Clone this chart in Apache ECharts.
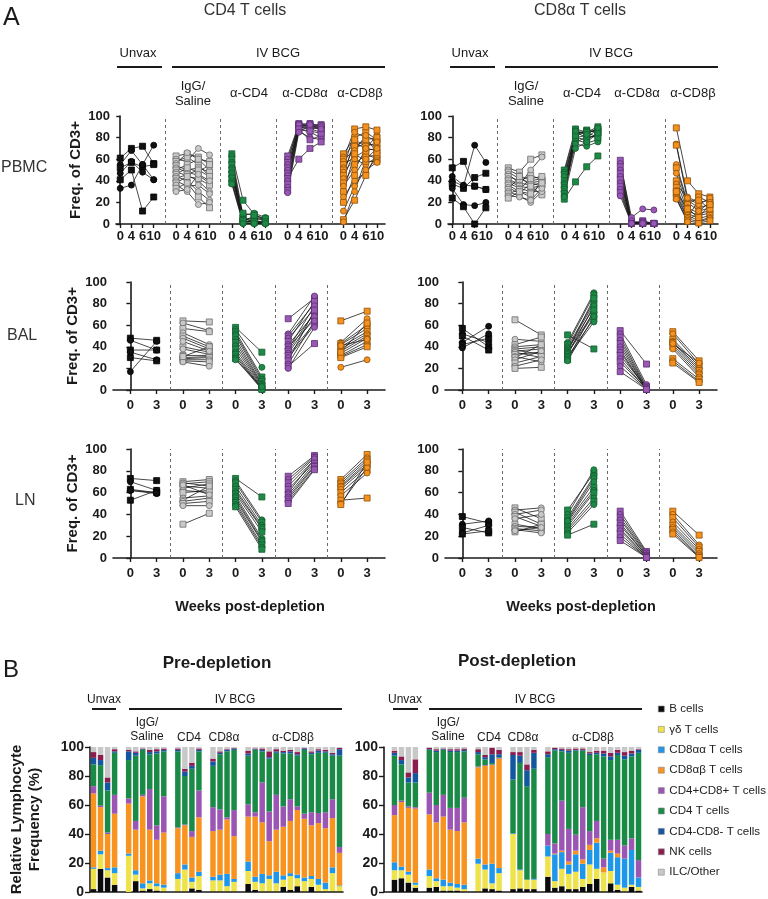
<!DOCTYPE html>
<html>
<head>
<meta charset="utf-8">
<script src="https://cdn.jsdelivr.net/npm/echarts@6/dist/echarts.min.js"></script>
<style>
  html, body { margin: 0; padding: 0; background: #fff; }
  #main { width: 768px; height: 899px; }
</style>
</head>
<body>
<div id="main"></div>
<script>
// ---------- panel A: % of CD3+, one row per animal ----------
const pbmcWeeks = ['0', '4', '6', '10'];
const tissueWeeks = ['0', '3'];

// CD4 T cells, PBMC
const cd4PbmcUnvax = [[61,70,72,56],[55,68,55,73],[52,57,53,55],[47,58,48,41],[41,50,12,25],[33,36,55,41]];
const cd4PbmcIgg = [[63,65,62,55],[60,58,70,64],[58,62,55,44],[56,66,60,50],[54,50,52,48],[52,48,45,38],[50,55,60,58],[48,45,40,30],
  [46,52,48,55],[44,40,30,22],[42,46,50,44],[40,35,36,28],[38,44,42,36],[36,30,18,20],[33,38,25,15],[30,32,46,40]];
const cd4PbmcAcd4 = [[65,22,9,4],[63,8,10,6],[60,5,3,2],[57,3,7,4],[55,2,2,1],[52,1,4,5],[50,6,1,2],[48,0.5,0.5,0.5],
  [46,4,6,3],[44,2,3,1],[42,10,8,5],[40,1,1,0.5],[38,3,2,2],[37,0.5,0.5,0.5]];
const cd4PbmcAcd8a = [[63,92,93,90],[60,90,88,85],[57,93,92,92],[55,88,85,80],[52,91,90,88],[50,86,80,78],[47,92,91,91],
  [45,89,93,86],[42,60,70,76],[40,90,88,89],[37,87,78,82],[34,92,90,90],[31,88,86,84],[29,85,92,88]];
const cd4PbmcAcd8b = [[65,80,85,78],[62,75,70,82],[60,88,90,87],[58,70,75,72],[55,62,68,70],[52,85,80,66],[50,72,78,80],
  [48,60,55,62],[45,78,72,75],[42,68,82,76],[38,55,65,60],[35,50,70,68],[30,65,58,58],[25,40,48,62],[20,45,62,64],
  [12,35,50,57],[4,22,45,66],[2,30,60,70]];

// CD8a T cells, PBMC
const cd8PbmcUnvax = [[52,58,35,32],[40,35,73,57],[37,33,43,47],[33,18,17,20],[24,16,0,15],[44,36,35,32]];
const cd8PbmcIgg = [[52,48,60,64],[50,45,40,42],[48,42,38,40],[46,38,36,38],[44,40,45,41],[42,36,50,62],[40,35,33,36],
  [38,33,30,30],[36,30,25,40],[34,28,38,35],[32,44,35,27],[30,26,20,30],[28,32,42,44],[26,25,22,33],[24,30,28,38]];
const cd8PbmcAcd4 = [[50,88,85,90],[48,85,80,88],[46,82,87,85],[44,80,82,80],[40,86,84,88],[38,78,75,78],[36,84,86,86],
  [34,76,80,82],[32,80,78,84],[30,74,72,76],[28,82,85,80],[26,70,76,84],[23,39,53,63],[25,86,83,89]];
const cd8PbmcAcd8a = [[59,2,0.5,0.5],[56,6,14,13],[53,0.5,3,0.5],[50,0.5,0.5,0.5],[47,1,2,0.5],[44,0.5,0.5,0.5],
  [41,0.5,1,0.5],[38,3,0.5,0.5],[35,0.5,0.5,0.5],[32,0.5,0.5,0.5],[29,0.5,0.5,0.5],[26,0.5,0.5,0.5]];
const cd8PbmcAcd8b = [[89,40,28,25],[74,25,20,22],[73,22,15,18],[55,20,12,15],[52,18,25,20],[47,15,10,12],[40,12,8,10],
  [37,24,18,24],[34,10,5,8],[31,8,3,6],[28,6,22,14],[26,5,2,5],[24,3,1,3],[23,2,12,20],[30,14,6,18]];

// CD4 T cells, BAL
const cd4BalUnvax = [[48,46],[46,37],[37,37],[35,28],[30,27],[17,45]];
const cd4BalIgg = [[64,63],[62,55],[57,54],[53,42],[50,40],[48,38],[40,35],[38,33],[32,32],[30,31],[29,30],[28,28],
  [27,26],[26,22],[31,40],[45,36]];
const cd4BalAcd4 = [[58,35],[56,21],[54,12],[52,10],[50,8],[47,6],[44,5],[41,4],[38,3],[35,2],[33,1],[31,1],[29,0.5],[28,3]];
const cd4BalAcd8a = [[66,85],[52,87],[50,80],[48,75],[45,82],[42,70],[40,65],[38,78],[36,72],[34,68],[32,62],[30,60],
  [27,74],[24,64],[22,43],[20,58]];
const cd4BalAcd8b = [[64,73],[44,66],[43,60],[42,57],[40,54],[38,52],[36,50],[34,48],[32,45],[31,42],[30,40],[21,28],[35,62],[41,47]];

// CD8a T cells, BAL
const cd8BalUnvax = [[57,40],[52,44],[50,37],[44,59],[42,48],[39,52]];
const cd8BalIgg = [[65,51],[47,45],[42,49],[40,42],[38,40],[37,33],[36,38],[35,30],[33,35],[31,26],[30,42],[28,36],
  [25,31],[22,28],[20,21]];
const cd8BalAcd4 = [[51,38],[44,90],[42,88],[40,82],[38,80],[37,76],[36,85],[35,72],[34,70],[33,78],[31,66],[30,63],[28,74],[27,68]];
const cd8BalAcd8a = [[55,24],[52,5],[49,3],[46,2],[43,1],[40,1],[37,0.5],[35,0.5],[32,2],[29,0.5],[26,1],[22,0.5],[17,0.5]];
const cd8BalAcd8b = [[54,27],[52,24],[47,22],[45,20],[44,18],[42,16],[40,14],[38,12],[29,10],[27,8],[25,7],[43,25]];

// CD4 T cells, LN
const cd4LnUnvax = [[73,71],[70,62],[63,60],[62,59],[53,62],[62,60]];
const cd4LnIgg = [[70,72],[69,66],[68,70],[66,64],[64,68],[62,60],[60,62],[55,57],[53,66],[52,55],[50,52],[48,48],[31,41],[67,58]];
const cd4LnAcd4 = [[73,56],[71,35],[69,33],[66,30],[63,28],[61,27],[59,24],[57,18],[55,16],[53,15],[51,12],[49,10],[47,8]];
const cd4LnAcd8a = [[75,94],[72,93],[69,92],[66,90],[63,88],[60,91],[58,87],[56,85],[54,84],[52,82],[50,81]];
const cd4LnAcd8b = [[72,95],[70,92],[68,90],[66,88],[65,86],[63,84],[60,81],[57,78],[53,55],[50,83],[49,88]];

// CD8a T cells, LN
const cd8LnUnvax = [[38,32],[31,34],[28,23],[23,30],[22,25]];
const cd8LnIgg = [[46,36],[44,46],[42,31],[40,44],[38,29],[36,40],[31,27],[29,28],[27,25],[26,23],[24,31],[25,28]];
const cd8LnAcd4 = [[44,78],[40,81],[37,75],[35,73],[33,65],[31,62],[29,60],[27,55],[25,52],[23,49],[21,31],[34,70]];
const cd8LnAcd8a = [[43,6],[40,5],[37,4],[35,3],[32,2],[30,2],[27,1],[25,1],[22,0.5],[19,0.5],[16,0.5]];
const cd8LnAcd8b = [[43,21],[40,12],[37,10],[33,8],[30,6],[28,4],[26,2],[24,1],[22,0.5]];

// ---------- panel B: relative lymphocyte frequency, one row per animal ----------
const cellTypes = ['B cells', 'γδ T cells', 'CD8αα T cells', 'CD8αβ T cells', 'CD4+CD8+ T cells',
  'CD4 T cells', 'CD4-CD8- T cells', 'NK cells', 'ILC/Other'];

const preUnvax = [[2,14,1,51,5,15,4.5,4,3.5],[16,10,2.5,30,1,28,3.5,3.5,5.5],[10,5,1.5,23.5,1,29,5.5,3.5,21],[5,8,4,37,13,29,1,1.5,1.5]];
const preIgg = [[0,25,1.5,34.5,3.5,26.5,6,1,2],[7.5,4.5,3,28,6,45,2,1,3],[1,1.5,3.5,60,1,31,0.5,0.5,1],
  [2,4,2,35,28,24,1.5,1.5,2],[1,3,2,30,10,49.5,1.5,1.5,1.5],[0.5,2.5,2,36,25,31,1,1,1]];
const preCd4 = [[0.5,8.5,4,31,0.5,52.5,1,1,1],[0.5,15,3.5,27,0.5,33.5,3,2,15],[2.5,4.5,3,28,4,43,2,2,11],[1.5,9.5,3,37.5,18.5,27,1,1,1]];
const preCd8a = [[0.5,7.5,2.5,31.5,16.5,28.5,3,2,8],[0.5,7.5,4,31,14,38,1,1,3],[0.5,3.5,8.5,37.5,1.5,45.5,1,0.5,1.5],
  [0.5,6.5,2,29.5,18,41.5,1,0.5,0.5]];
const preCd8b = [[5.5,9,6.5,31,8.5,33.5,1.5,2,2.5],[1.5,5.5,3.5,41.5,3,43,0.5,0.5,1],[0.5,5.5,6.5,35.5,27.5,21.5,1,1,1],
  [0.5,8.5,2.5,23.5,20.5,36.5,1,4,3],[0.5,5.5,8,29,24,29,1,1.5,1.5],[3.5,5,3,33.5,14,36.5,1,1,2.5],
  [1.5,9.5,2,36,15,31.5,1.5,1,2],[4,5.5,2.5,44.5,2.5,35,1,1.5,3.5],[0.5,7,2.5,40.5,3.5,44,1,0.5,0.5],
  [3.5,5.5,2,35,9,40,1,1,3],[0.5,4.5,4,38.5,7,41.5,1.5,1,1.5],[0.5,1.5,4.5,37.5,11,41,1,1,2],
  [0.5,12.5,4,34,13,30,1,1,4],[0.5,3.5,0.5,22.5,4,63,4.5,1,0.5]];

const postUnvax = [[8.5,6.5,5.5,32.5,7,34,2,1.5,2.5],[9.5,5.5,2.5,44.5,1,25,3,2.5,6.5],[6.5,5.5,2,44,1,16.5,3.5,3.5,17.5],
  [3,2,1.5,51,1,17,6.5,9.5,8.5]];
const postIgg = [[3,8,4.5,38,15,29.5,0.5,1,0.5],[3.5,4,2,38.5,12,36.5,1,1,1.5],[1,3,4.5,43.5,15,31,0.5,0.5,1],
  [1,3,2.5,36.5,15,38.5,1,1,1.5],[1,2,2.5,36.5,16,38.5,1,1,1.5],[0.5,1.5,3,43,17,32,1,1,1]];
const postCd4 = [[0.5,19,3.5,63,0.5,8.5,1.5,2,1.5],[2.5,13,3.5,68,0.5,4,1.5,1.5,5.5],[2,4,13.5,68,0.5,1,6,4.5,0.5],
  [1,12,3.5,75.5,0.5,0.5,2,3,2]];
const postCd8a = [[2,38,0.5,0,0,37,17,2,3.5],[2.5,12.5,0.5,0,0,73.5,5,2.5,3.5],[2,6.5,0,0,0,64.5,11,4,12],[2,6.5,0.5,0,0,76,11,2,2]];
const postCd8b = [[10.5,14,7.5,0,8,53,2,2,3],[3,4.5,18.5,0.5,7,64,1,1,0.5],[4,12,11.5,1,34.5,34,1,1,1],
  [2,10.5,6.5,2,22.5,52.5,1.5,1,1.5],[2,12,12,2.5,11,58,0.5,1,1],[3.5,5.5,10.5,3,36,39,0.5,1,1],
  [5.5,13.5,10,3.5,9.5,52.5,1,1,3.5],[9,7,18,3,12,46,1,1.5,2.5],[0.5,13,0,3.5,6,70.5,2,2,2.5],
  [6,8.5,12.5,1.5,7.5,55,2.5,2.5,4],[1.5,3.5,19,2.5,9.5,58.5,1.5,2,2],[0.5,2.5,20,0,9,59.5,2.5,2.5,3.5],
  [3.5,1.5,24,0,8,56.5,2,2,2.5],[1,2.5,6.5,0,12,74,2,0.5,1.5]];

// ---------- styling ----------
const FONT = '"Liberation Sans", Arial, Helvetica, sans-serif';
const INK = '#1a1a1a';
const groupFill = ['#111111', '#c9c9c9', '#1d8a46', '#9a58b5', '#f5911f'];
const groupEdge = ['#000000', '#6f6f6f', '#155c30', '#5b2e72', '#8f5109'];
const cellColors = ['#0b0b0b', '#efe34b', '#1e96ea', '#f7931e', '#9b56b3', '#1a8b47', '#13579f', '#8c1d4f', '#c8c8c8'];

const panelsA = [
  { grid: { left: 116, top: 116, width: 269, height: 108 }, weeks: pbmcWeeks, yName: true, labelMargin: 6,
    groups: [cd4PbmcUnvax, cd4PbmcIgg, cd4PbmcAcd4, cd4PbmcAcd8a, cd4PbmcAcd8b] },
  { grid: { left: 448, top: 116, width: 270, height: 108 }, weeks: pbmcWeeks, yName: false, labelMargin: 6,
    groups: [cd8PbmcUnvax, cd8PbmcIgg, cd8PbmcAcd4, cd8PbmcAcd8a, cd8PbmcAcd8b] },
  { grid: { left: 113, top: 282, width: 272, height: 108 }, weeks: tissueWeeks, yName: true, labelMargin: 9,
    groups: [cd4BalUnvax, cd4BalIgg, cd4BalAcd4, cd4BalAcd8a, cd4BalAcd8b] },
  { grid: { left: 445, top: 282, width: 272, height: 108 }, weeks: tissueWeeks, yName: false, labelMargin: 9,
    groups: [cd8BalUnvax, cd8BalIgg, cd8BalAcd4, cd8BalAcd8a, cd8BalAcd8b] },
  { grid: { left: 113, top: 449, width: 272, height: 109 }, weeks: tissueWeeks, yName: true, labelMargin: 9,
    groups: [cd4LnUnvax, cd4LnIgg, cd4LnAcd4, cd4LnAcd8a, cd4LnAcd8b] },
  { grid: { left: 445, top: 449, width: 272, height: 109 }, weeks: tissueWeeks, yName: false, labelMargin: 9,
    groups: [cd8LnUnvax, cd8LnIgg, cd8LnAcd4, cd8LnAcd8a, cd8LnAcd8b] }
];

const grids = [], xAxes = [], yAxes = [], series = [];

panelsA.forEach((p, pi) => {
  const n = p.weeks.length;
  const step = n === 4 ? 5 : 2;          // slots per treatment group
  const sepOff = (step - n + 1) / 2;     // dashed divider sits between groups
  const pbmc = n === 4;
  const positions = [];
  for (let g = 0; g < 5; g++) for (let t = 0; t < n; t++) positions.push(g * step + t);

  grids.push(p.grid);
  xAxes.push({
    type: 'value', gridIndex: pi,
    min: pbmc ? -0.38 : -0.66, max: pbmc ? 23.72 : 9.68,
    splitLine: { show: false },
    axisLine: { show: true, onZero: false, lineStyle: { color: INK, width: 1.6 } },
    axisTick: { show: true, length: 4, customValues: positions, lineStyle: { color: INK, width: 1.4 } },
    axisLabel: {
      customValues: positions, margin: p.labelMargin,
      fontFamily: FONT, fontWeight: 'bold', fontSize: 13, color: INK,
      formatter: v => p.weeks[Math.round(v) % step]
    }
  });
  yAxes.push({
    type: 'value', gridIndex: pi, min: 0, max: 100, interval: 20,
    splitLine: { show: false },
    axisLine: { show: true, lineStyle: { color: INK, width: 1.6 } },
    axisTick: { show: true, length: 4, lineStyle: { color: INK, width: 1.4 } },
    axisLabel: { fontFamily: FONT, fontWeight: 'bold', fontSize: 13, color: INK, margin: 6 },
    name: p.yName ? 'Freq. of CD3+' : '', nameLocation: 'middle', nameRotate: 90, nameGap: 33,
    nameTextStyle: { fontFamily: FONT, fontWeight: 'bold', fontSize: 15, color: INK }
  });

  let first = true;
  p.groups.forEach((rows, g) => {
    rows.forEach((r, i) => {
      const s = {
        type: 'line', xAxisIndex: pi, yAxisIndex: pi, silent: true, animation: false,
        symbol: i % 2 ? 'circle' : 'rect', symbolSize: 6,
        lineStyle: { color: INK, width: 0.8 },
        itemStyle: { color: groupFill[g], borderColor: groupEdge[g], borderWidth: 0.8 },
        data: r.map((v, t) => [g * step + t, v]),
        z: 3
      };
      if (first) {
        s.markLine = {
          silent: true, symbol: ['none', 'none'], label: { show: false }, z: 1,
          lineStyle: { type: [3, 3], color: '#6a6a6a', width: 1 },
          data: [1, 2, 3, 4].map(k => ({ xAxis: k * step - sepOff }))
        };
        first = false;
      }
      series.push(s);
    });
  });
});

// ---------- panel B stacked bars ----------
function buildBars(groupsRows, leadGap) {
  const rows = [];
  if (leadGap) rows.push(null);
  groupsRows.forEach((g, gi) => {
    g.forEach(r => rows.push(r));
    if (gi < groupsRows.length - 1) rows.push(null);
  });
  return rows;
}
const preRows = buildBars([preUnvax, preIgg, preCd4, preCd8a, preCd8b], false);
const postRows = buildBars([postUnvax, postIgg, postCd4, postCd8a, postCd8b], true);

[[preRows, { left: 90, top: 747, width: 253, height: 145 }, true],
 [postRows, { left: 384, top: 747, width: 258, height: 145 }, false]].forEach(([rows, grid, named], bi) => {
  const gi = grids.length;
  grids.push(grid);
  xAxes.push({
    type: 'category', gridIndex: gi, data: rows.map((r, i) => String(i)),
    axisLine: { show: true, lineStyle: { color: INK, width: 1.6 } },
    axisTick: { show: false }, axisLabel: { show: false }
  });
  yAxes.push({
    type: 'value', gridIndex: gi, min: 0, max: 100, interval: 20,
    splitLine: { show: false },
    axisLine: { show: true, lineStyle: { color: INK, width: 1.6 } },
    axisTick: { show: true, length: 5, lineStyle: { color: INK, width: 1.4 } },
    axisLabel: { fontFamily: FONT, fontWeight: 'bold', fontSize: 14, color: INK, margin: 6 },
    name: named ? 'Relative Lymphocyte\nFrequency (%)' : '', nameLocation: 'middle', nameRotate: 90, nameGap: 46,
    nameTextStyle: { fontFamily: FONT, fontWeight: 'bold', fontSize: 15, lineHeight: 18, color: INK }
  });
  cellTypes.forEach((name, k) => {
    series.push({
      type: 'bar', name: name, xAxisIndex: gi, yAxisIndex: gi, stack: 'b' + bi,
      barWidth: '78%', silent: true, animation: false,
      itemStyle: { color: cellColors[k] },
      data: rows.map(r => (r ? r[k] : '-'))
    });
  });
});

// ---------- annotations ----------
function txt(s, x, y, size, opts) {
  opts = opts || {};
  return { type: 'text', silent: true, z: 10, style: {
    text: s, x: x, y: y, fill: opts.color || INK,
    font: (opts.bold ? 'bold ' : '') + size + 'px ' + FONT,
    textAlign: opts.align || 'center', textVerticalAlign: 'middle' } };
}
function bar(x1, x2, y) {
  return { type: 'line', silent: true, z: 10, shape: { x1: x1, y1: y, x2: x2, y2: y },
    style: { stroke: INK, lineWidth: 2 } };
}

const graphics = [
  txt('A', 3, 18, 25, { align: 'left' }),
  txt('CD4 T cells', 245, 11, 16, { color: '#333' }),
  txt('CD8α T cells', 580, 11, 16, { color: '#333' }),
  txt('PBMC', 1, 168, 16, { align: 'left', color: '#333' }),
  txt('BAL', 7, 336, 16, { align: 'left', color: '#333' }),
  txt('LN', 15, 501, 16, { align: 'left', color: '#333' }),
  txt('Weeks post-depletion', 250, 607, 14.5, { bold: true }),
  txt('Weeks post-depletion', 581, 607, 14.5, { bold: true }),
  txt('B', 3, 670, 24, { align: 'left' }),
  txt('Pre-depletion', 217, 663, 17, { bold: true }),
  txt('Post-depletion', 517, 661, 17, { bold: true })
];

// treatment headers for panel A (left and right charts)
[[138, 117, 162, 278, 172, 385, [193, 249, 305, 360]],
 [470, 450, 495, 611, 505, 718, [526, 582, 637, 693]]].forEach(h => {
  graphics.push(txt('Unvax', h[0], 53, 13), bar(h[1], h[2], 67),
    txt('IV BCG', h[3], 53, 13), bar(h[4], h[5], 67),
    txt('IgG/', h[6][0], 86, 13), txt('Saline', h[6][0], 101, 13),
    txt('α-CD4', h[6][1], 93, 13), txt('α-CD8α', h[6][2], 93, 13), txt('α-CD8β', h[6][3], 93, 13));
});
// treatment headers for panel B
[[104, 92, 116, 235, 129, 342, [147, 189, 224, 293]],
 [405, 393, 418, 535, 429, 642, [448, 489, 523, 593]]].forEach(h => {
  graphics.push(txt('Unvax', h[0], 700, 12), bar(h[1], h[2], 709),
    txt('IV BCG', h[3], 700, 12), bar(h[4], h[5], 709),
    txt('IgG/', h[6][0], 723, 12), txt('Saline', h[6][0], 737, 12),
    txt('CD4', h[6][1], 738, 12), txt('CD8α', h[6][2], 738, 12), txt('α-CD8β', h[6][3], 738, 12));
});

const chart = echarts.init(document.getElementById('main'));
chart.setOption({
  animation: false,
  backgroundColor: '#ffffff',
  grid: grids,
  xAxis: xAxes,
  yAxis: yAxes,
  legend: {
    data: cellTypes, orient: 'vertical', left: 658, top: 702, padding: 0,
    icon: 'rect', itemWidth: 6, itemHeight: 6, itemGap: 6.4, selectedMode: false,
    itemStyle: { borderColor: '#888', borderWidth: 0.6 },
    textStyle: { fontFamily: FONT, fontSize: 11.6, lineHeight: 14, color: '#222' }
  },
  graphic: graphics,
  series: series
});
</script>
</body>
</html>
